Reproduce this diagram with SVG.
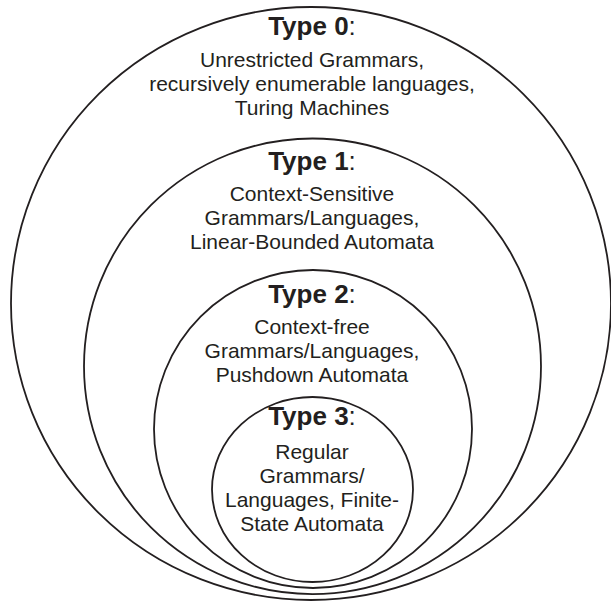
<svg xmlns="http://www.w3.org/2000/svg" width="611" height="601" viewBox="0 0 611 601">
<style>
.ring{fill:none;stroke:#231f20;stroke-width:1.8}
text{font-family:"Liberation Sans",Arial,Helvetica,sans-serif;fill:#231f20;text-anchor:middle}
.title{font-size:26px}
.title .b{font-weight:bold}
.body{font-size:21px}
</style>
<rect width="611" height="601" fill="#ffffff"/>
<g id="type0">
<ellipse class="ring" cx="311" cy="303.5" rx="300" ry="296.5"/>
<text class="title" x="312" y="35"><tspan class="b">Type 0</tspan>:</text>
<text class="body" x="312" y="67">Unrestricted Grammars,</text>
<text class="body" x="312" y="91">recursively enumerable languages,</text>
<text class="body" x="312" y="115">Turing Machines</text>
</g>
<g id="type1">
<ellipse class="ring" cx="312.5" cy="366.3" rx="228.5" ry="227.8"/>
<text class="title" x="312" y="170"><tspan class="b">Type 1</tspan>:</text>
<text class="body" x="312" y="201">Context-Sensitive</text>
<text class="body" x="312" y="225">Grammars/Languages,</text>
<text class="body" x="312" y="249">Linear-Bounded Automata</text>
</g>
<g id="type2">
<ellipse class="ring" cx="313" cy="429" rx="159" ry="159"/>
<text class="title" x="312" y="303"><tspan class="b">Type 2</tspan>:</text>
<text class="body" x="312" y="334">Context-free</text>
<text class="body" x="312" y="358">Grammars/Languages,</text>
<text class="body" x="312" y="382">Pushdown Automata</text>
</g>
<g id="type3">
<ellipse class="ring" cx="312.5" cy="489.5" rx="100.5" ry="92.5"/>
<text class="title" x="312" y="425"><tspan class="b">Type 3</tspan>:</text>
<text class="body" x="312" y="459">Regular</text>
<text class="body" x="312" y="483">Grammars/</text>
<text class="body" x="312" y="507">Languages, Finite-</text>
<text class="body" x="312" y="531">State Automata</text>
</g>
<g id="connectors"/>
</svg>
